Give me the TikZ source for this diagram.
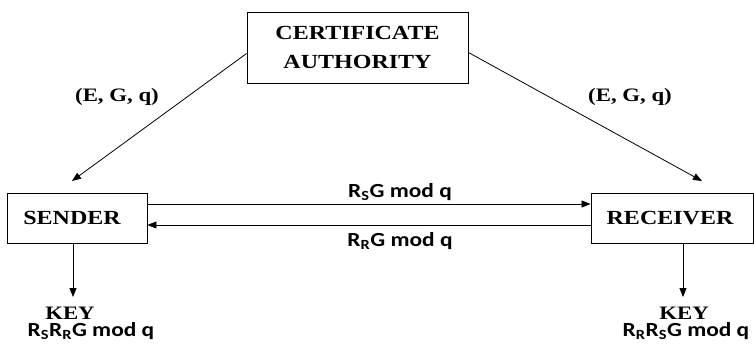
\documentclass[tikz,border=0pt]{standalone}
\usepackage{fontspec}
\setmainfont{Liberation Serif}
\newfontfamily\wideserif[FakeStretch=1.2]{Liberation Serif}
\newfontfamily\lblfont[FakeStretch=1.17]{Carlito}
\usetikzlibrary{arrows.meta}
\tikzset{
  box/.style={draw, line width=0.9pt, inner sep=0pt, font=\fontsize{20}{24}\selectfont\wideserif\bfseries, align=center},
  arr/.style={line width=0.8pt, -{Triangle[length=9pt,width=7pt]}},
  sertxt/.style={font=\fontsize{19}{22}\selectfont\wideserif\bfseries, inner sep=0pt},
  sanstxt/.style={font=\fontsize{20}{24}\selectfont\lblfont\bfseries, inner sep=0pt}
}
\begin{document}
\begin{tikzpicture}[x=1pt,y=-1pt]
\useasboundingbox (0,0) rectangle (754,349);
\node[box, minimum width=221pt, minimum height=71pt] (ca) at (357.5,47.5) {CERTIFICATE\\[5pt]AUTHORITY};
\node[box, minimum width=140pt, minimum height=50pt] (sender) at (77,218) {\hspace*{-10pt}SENDER};
\node[box, minimum width=162pt, minimum height=50pt] (receiver) at (672,218) {\hspace*{-4pt}RECEIVER};
\coordinate (sT) at (72,181);
\coordinate (rT) at (702,181);
\draw[arr] ([yshift=-6pt]ca.west) -- (sT);
\draw[arr] ([yshift=-5pt]ca.east) -- (rT);
\node[sertxt] (lab1) at (117,97) {(E, G, q)};
\node[sertxt] (lab2) at (630,97) {(E, G, q)};
\draw[arr] ([yshift=14pt]sender.east) -- ([yshift=14pt]sender.east -| receiver.west);
\draw[arr] ([yshift=-7pt]receiver.west) -- ([yshift=-7pt]receiver.west -| sender.east);
\node[sanstxt] (m1) at (400,192) {R\textsubscript{S}G mod q};
\node[sanstxt] (m2) at (400,241) {R\textsubscript{R}G mod q};
\coordinate (sK) at (73,297);
\coordinate (rK) at (683,297);
\draw[arr] (sender.south -| sK) -- (sK);
\draw[arr] (receiver.south -| rK) -- (rK);
\node[sertxt] (k1) at (70,313) {KEY};
\node[sanstxt] (v1) at (91,331) {R\textsubscript{S}R\textsubscript{R}G mod q};
\node[sertxt] (k2) at (684,313) {KEY};
\node[sanstxt] (v2) at (686,331) {R\textsubscript{R}R\textsubscript{S}G mod q};
\end{tikzpicture}
\end{document}
